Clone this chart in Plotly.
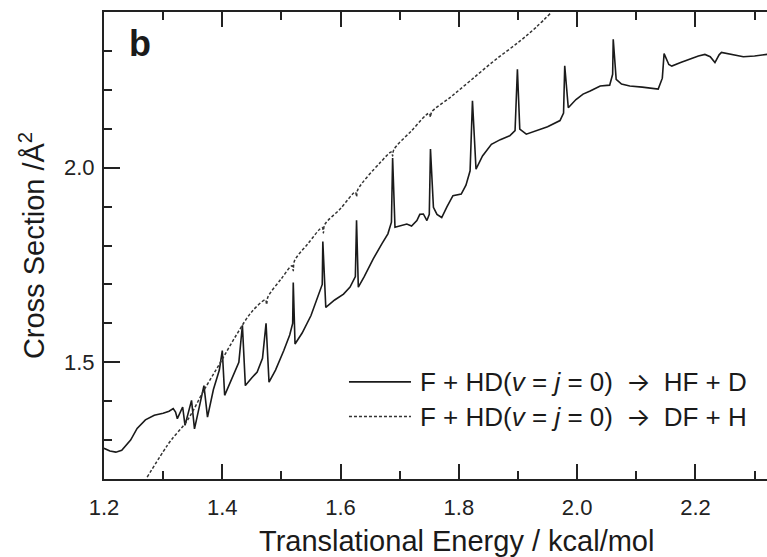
import plotly.graph_objects as go

# Reaction cross sections of F + HD(v = j = 0) versus translational energy
energy_hf = [1.200, 1.210, 1.220, 1.230, 1.245, 1.256, 1.270, 1.285, 1.300, 1.310,
             1.317, 1.321, 1.324, 1.328, 1.333, 1.337, 1.342, 1.348, 1.353, 1.360,
             1.369, 1.375, 1.385, 1.395, 1.400, 1.404, 1.415, 1.428, 1.434, 1.439,
             1.450, 1.459, 1.468, 1.474, 1.479, 1.490, 1.504, 1.514, 1.519, 1.520,
             1.523, 1.535, 1.550, 1.565, 1.569, 1.570, 1.575, 1.590, 1.605, 1.616,
             1.625, 1.627, 1.630, 1.640, 1.655, 1.670, 1.680, 1.686, 1.688, 1.692,
             1.700, 1.712, 1.720, 1.729, 1.734, 1.740, 1.746, 1.750, 1.752, 1.757,
             1.763, 1.771, 1.780, 1.790, 1.804, 1.812, 1.819, 1.823, 1.829, 1.840,
             1.855, 1.870, 1.886, 1.895, 1.899, 1.903, 1.914, 1.930, 1.950, 1.971,
             1.977, 1.979, 1.985, 1.998, 2.010, 2.022, 2.039, 2.055, 2.060, 2.061,
             2.066, 2.075, 2.089, 2.110, 2.137, 2.144, 2.147, 2.155, 2.160, 2.175,
             2.191, 2.205, 2.216, 2.225, 2.233, 2.240, 2.244, 2.260, 2.281, 2.300,
             2.318, 2.325]
sigma_hf = [1.279, 1.272, 1.269, 1.274, 1.300, 1.330, 1.352, 1.364, 1.369, 1.374,
            1.381, 1.372, 1.355, 1.370, 1.385, 1.338, 1.365, 1.402, 1.329, 1.375,
            1.440, 1.359, 1.430, 1.480, 1.530, 1.415, 1.455, 1.500, 1.595, 1.440,
            1.460, 1.475, 1.510, 1.600, 1.449, 1.480, 1.530, 1.570, 1.600, 1.705,
            1.547, 1.575, 1.620, 1.680, 1.700, 1.810, 1.641, 1.660, 1.675, 1.693,
            1.720, 1.865, 1.693, 1.720, 1.765, 1.805, 1.830, 1.860, 2.025, 1.847,
            1.850, 1.855, 1.850, 1.864, 1.880, 1.881, 1.864, 1.880, 2.048, 1.898,
            1.880, 1.872, 1.900, 1.928, 1.932, 1.955, 1.992, 2.172, 1.996, 2.030,
            2.060, 2.072, 2.082, 2.095, 2.253, 2.099, 2.086, 2.095, 2.105, 2.121,
            2.140, 2.262, 2.154, 2.175, 2.189, 2.197, 2.210, 2.212, 2.240, 2.330,
            2.227, 2.215, 2.210, 2.207, 2.202, 2.230, 2.293, 2.265, 2.261, 2.270,
            2.279, 2.287, 2.291, 2.285, 2.270, 2.290, 2.296, 2.292, 2.285, 2.287,
            2.291, 2.292]

energy_df = [1.273, 1.300, 1.313, 1.341, 1.369, 1.397, 1.425, 1.450, 1.473, 1.475,
             1.477, 1.500, 1.518, 1.520, 1.522, 1.545, 1.569, 1.571, 1.573, 1.600,
             1.625, 1.627, 1.629, 1.667, 1.686, 1.688, 1.690, 1.720, 1.750, 1.752,
             1.754, 1.785, 1.819, 1.860, 1.903, 1.930, 1.957]
sigma_df = [1.205, 1.270, 1.299, 1.351, 1.428, 1.500, 1.573, 1.630, 1.660, 1.648,
            1.667, 1.715, 1.748, 1.735, 1.760, 1.805, 1.846, 1.832, 1.853, 1.895,
            1.937, 1.925, 1.943, 2.013, 2.040, 2.030, 2.046, 2.095, 2.140, 2.130,
            2.143, 2.180, 2.223, 2.275, 2.325, 2.360, 2.400]

ARROW = '\u2002<span style="font-family:Inter">\u2192</span>\u2002'
series_names = [f"F + HD(<i>v</i> = <i>j</i> = 0){ARROW}HF + D",
                f"F + HD(<i>v</i> = <i>j</i> = 0){ARROW}DF + H"]

x_title = "Translational Energy / kcal/mol"
y_title = "Cross Section /\u00c5<sup>2</sup>"
x_ticks = [1.2, 1.4, 1.6, 1.8, 2.0, 2.2]
y_ticks = [1.5, 2.0]

INK = "#1a1a1a"
FONT = "Liberation Sans, Arial, Helvetica, sans-serif"

fig = go.Figure()
fig.add_trace(go.Scatter(x=energy_hf, y=sigma_hf, mode="lines",
                         line=dict(color=INK, width=1.6), showlegend=False))
fig.add_trace(go.Scatter(x=energy_df, y=sigma_df, mode="lines", line_shape="spline",
                         line=dict(color="#333333", width=1.5, dash="3px,2px"),
                         showlegend=False))

# key drawn inside the plot area
legend_rows = [(0.208, dict(color=INK, width=1.6)),
               (0.134, dict(color="#333333", width=1.5, dash="3px,2px"))]
for (ypos, style), name in zip(legend_rows, series_names):
    fig.add_shape(type="line", xref="paper", yref="paper",
                  x0=0.3695, x1=0.463, y0=ypos, y1=ypos, line=style)
    fig.add_annotation(xref="paper", yref="paper", x=0.473, y=ypos,
                       xanchor="left", yanchor="middle", showarrow=False,
                       text=name, font=dict(size=26, color=INK, family=FONT))

fig.add_annotation(xref="paper", yref="paper", x=0.034, y=0.98,
                   xanchor="left", yanchor="top", showarrow=False,
                   text="<b>b</b>", font=dict(size=36, color=INK, family=FONT))

# x-axis title sits a little right of the plot-area centre
fig.add_annotation(xref="paper", yref="paper", x=0.532, y=-0.1335,
                   xanchor="center", yanchor="middle", showarrow=False,
                   text=x_title, font=dict(size=29, color=INK, family=FONT))

axis_common = dict(showline=True, linecolor="#222222", linewidth=2,
                   ticks="inside", tickwidth=2, tickcolor="#222222",
                   showgrid=False, zeroline=False,
                   tickfont=dict(size=22, color="#222222", family=FONT))

fig.update_xaxes(range=[1.2, 2.321], tickvals=x_ticks, ticktext=[f"{v:.1f}" for v in x_ticks],
                 ticklen=15, mirror="ticks", ticklabelstandoff=8,
                 minor=dict(dtick=0.1, tick0=1.2, ticks="inside", ticklen=8,
                            tickwidth=2, tickcolor="#222222", showgrid=False),
                 **axis_common)
fig.update_yaxes(range=[1.2, 2.4], tickvals=y_ticks, ticktext=[f"{v:.1f}" for v in y_ticks],
                 ticklen=16, ticklabelstandoff=3,
                 minor=dict(dtick=0.1, tick0=1.2, ticks="inside", ticklen=8,
                            tickwidth=2, tickcolor="#222222", showgrid=False),
                 title=dict(text=y_title, standoff=11,
                            font=dict(size=29, color=INK, family=FONT)),
                 **axis_common)

fig.update_layout(width=767, height=557, margin=dict(l=104, r=0, t=12, b=78),
                  plot_bgcolor="white", paper_bgcolor="white",
                  font=dict(family=FONT, color=INK))

fig.write_html("out.html")
